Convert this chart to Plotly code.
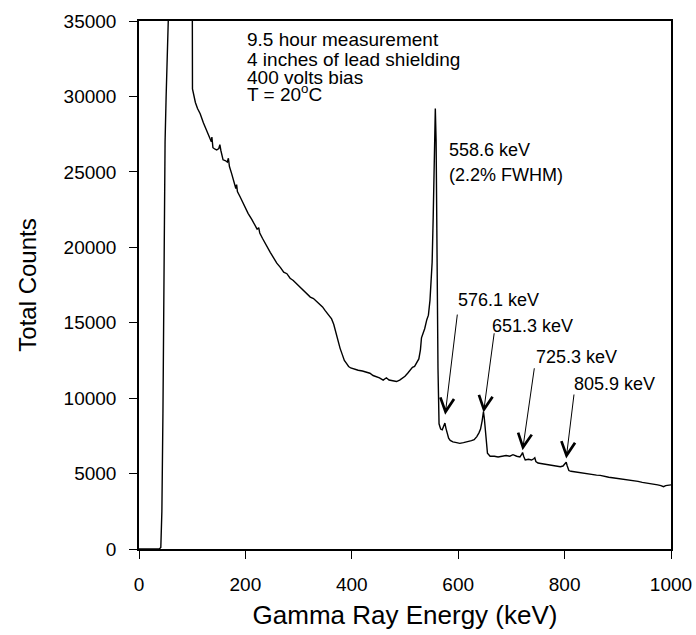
import plotly.graph_objects as go

# Spectrum (energy in keV, total counts)
energy_kev = [0, 38, 41, 43, 45, 46, 47.5, 49, 51, 53, 56, 75, 95, 100, 100.5, 103, 106, 110, 115, 121,
              127, 133, 136, 137, 139, 143, 146, 150, 152, 154, 158, 162, 166, 168, 170, 174, 177, 180,
              182, 183.5, 185, 190, 195, 199, 205, 212, 218, 222, 225, 227, 232, 240, 247, 253, 259, 266,
              272, 278, 284, 290, 297, 303, 309, 315, 322, 328, 334, 340, 345, 350, 356, 362, 366, 370,
              374, 378, 382, 386, 390, 394, 398, 405, 412, 420, 427, 434, 440, 446, 452, 459, 465, 470,
              477, 484, 490, 495, 500, 505, 509, 514, 518, 522, 526, 529, 531, 534, 537, 541, 544, 547,
              549, 551, 553, 555, 557, 558.5, 560, 562, 564, 567, 570, 572, 575, 577, 579, 582, 585, 590,
              597, 603, 610, 618, 625, 630, 635, 639, 642, 645, 647.5, 649, 651, 653, 655, 660, 668, 675,
              682, 690, 697, 703, 710, 716, 719, 721, 723, 726, 732, 738, 742, 744, 746, 750, 758, 765,
              773, 780, 786, 792, 797, 801, 803, 805, 808, 812, 820, 828, 836, 845, 852, 860, 867, 875,
              883, 890, 898, 906, 915, 922, 930, 938, 946, 954, 961, 968, 975, 981, 986, 990, 995, 1000]
total_counts = [0, 0, 100, 2500, 9000, 15000, 24000, 27000, 30000, 33500, 40000, 60000, 48000, 40000,
                30500, 30000, 29600, 29200, 28850, 28250, 27750, 27150, 27000, 27300, 26600, 26500, 26450,
                26550, 26800, 26400, 25800, 25750, 25650, 25900, 25350, 24900, 24450, 24050, 23900, 24150,
                23700, 23350, 22950, 22700, 22250, 21850, 21500, 21200, 21300, 20950, 20600, 20050, 19650,
                19300, 18950, 18650, 18350, 18250, 17950, 17800, 17550, 17380, 17150, 16950, 16700, 16600,
                16400, 16250, 16050, 15800, 15500, 15250, 14900, 14300, 13800, 13300, 12900, 12500, 12300,
                12100, 12000, 11900, 11850, 11800, 11700, 11650, 11500, 11450, 11350, 11200, 11350, 11200,
                11150, 11100, 11200, 11300, 11450, 11650, 11850, 12050, 12100, 12350, 12600, 13200, 14000,
                14300, 14600, 15200, 15500, 16500, 17500, 19000, 22000, 26000, 29200, 27000, 20000, 12000,
                8300, 7950, 7900, 8100, 8350, 8000, 7650, 7350, 7200, 7100, 7050, 7000, 7050, 7100, 7180,
                7250, 7450, 7700, 7950, 8500, 9100, 8700, 8000, 6800, 6350, 6150, 6150, 6100, 6150, 6200,
                6150, 6250, 6150, 6100, 6250, 6400, 6150, 5900, 5950, 5900, 5980, 6050, 5800, 5700, 5650,
                5600, 5570, 5500, 5480, 5450, 5500, 5650, 5750, 5500, 5200, 5150, 5100, 5050, 5000, 4980,
                4920, 4900, 4880, 4800, 4760, 4720, 4680, 4650, 4600, 4580, 4550, 4480, 4420, 4380, 4350,
                4300, 4250, 4200, 4130, 4200, 4220, 4250]

# Peak labels (label text, arrow tip, arrow tail, label anchor)
peak_labels = ["576.1 keV", "651.3 keV", "725.3 keV", "805.9 keV"]
tip_energy = [575.5, 647.6, 721, 803]
tip_counts = [8900, 9050, 6550, 6000]
tail_energy = [598.7, 668, 743.5, 818]
tail_counts = [15640, 14400, 12080, 10340]
label_energy = [596, 660, 743, 814]
label_counts = [16505, 14780, 12730, 10940]

main_peak_text = ["558.6 keV", "(2.2% FWHM)"]
main_peak_energy = 579
main_peak_counts = [26450, 24800]

info_lines = ["9.5 hour measurement", "4 inches of lead shielding", "400 volts bias",
              "T = 20<sup>o</sup>C"]
info_energy = 199.5
info_counts = [33750, 32450, 31250, 30200]

x_ticks = [0, 200, 400, 600, 800, 1000]
y_ticks = [0, 5000, 10000, 15000, 20000, 25000, 30000, 35000]

FONT = "Liberation Sans, Arial, sans-serif"

fig = go.Figure()
fig.add_trace(go.Scatter(x=energy_kev, y=total_counts, mode="lines",
                         line=dict(color="black", width=1.4), showlegend=False,
                         cliponaxis=True, hoverinfo="skip"))

annotations = []
for i, lab in enumerate(peak_labels):
    annotations.append(dict(x=tip_energy[i], y=tip_counts[i], xref="x", yref="y",
                            ax=tail_energy[i], ay=tail_counts[i], axref="x", ayref="y",
                            text="", showarrow=True, arrowhead=5, arrowsize=2.7,
                            arrowwidth=1, arrowcolor="black", standoff=0))
    annotations.append(dict(x=label_energy[i], y=label_counts[i], xref="x", yref="y",
                            text=lab, showarrow=False, xanchor="left", yanchor="middle",
                            font=dict(size=18, color="black", family=FONT)))
for t, c in zip(main_peak_text, main_peak_counts):
    annotations.append(dict(x=main_peak_energy, y=c, xref="x", yref="y", text=t,
                            showarrow=False, xanchor="left", yanchor="middle",
                            font=dict(size=18, color="black", family=FONT)))
for t, c in zip(info_lines, info_counts):
    annotations.append(dict(x=info_energy, y=c, xref="x", yref="y", text=t,
                            showarrow=False, xanchor="left", yanchor="middle",
                            font=dict(size=19, color="black", family=FONT)))

fig.update_layout(
    width=696, height=635,
    margin=dict(l=139, r=25, t=21, b=86, autoexpand=False),
    paper_bgcolor="white", plot_bgcolor="white",
    font=dict(family=FONT, color="black"),
    annotations=annotations,
    xaxis=dict(range=[0, 1000], tickvals=x_ticks, tickformat="d", ticks="outside", ticklen=8,
               tickwidth=1.3, tickcolor="black", showline=True, linecolor="black", linewidth=1.5,
               mirror=True, showgrid=False, zeroline=False, tickfont=dict(size=19),
               ticklabelstandoff=9, automargin=False,
               title=dict(text="Gamma Ray Energy (keV)", font=dict(size=26), standoff=12)),
    yaxis=dict(range=[0, 35000], tickvals=y_ticks, tickformat="d", ticks="outside", ticklen=8,
               tickwidth=1.3, tickcolor="black", showline=True, linecolor="black", linewidth=1.5,
               mirror=True, showgrid=False, zeroline=False, tickfont=dict(size=19),
               ticklabelstandoff=9, automargin=False,
               title=dict(text="Total Counts", font=dict(size=24), standoff=20)),
)

# remove the page's default body margin and scrollbars so the figure fills the window
fig.write_html("out.html", config={"displayModeBar": False},
               post_script="document.body.style.margin='0';document.body.style.overflow='hidden';")
